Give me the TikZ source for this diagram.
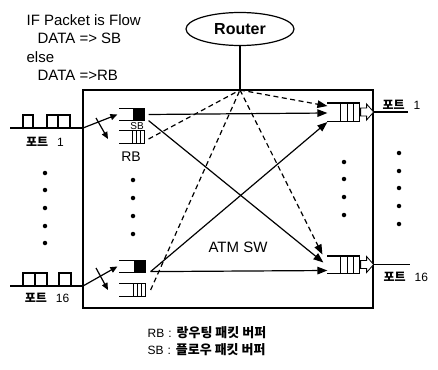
\documentclass[tikz,border=0pt]{standalone}
\usepackage{fontspec}
\setmainfont{Liberation Sans}
\newfontfamily\kr{Noto Sans CJK KR}
\usetikzlibrary{shapes, positioning, arrows.meta, calc}

\begin{document}
\begin{tikzpicture}[x=1pt, y=-1pt, line width=1.2pt,
    dot/.style={circle, fill, inner sep=0pt, minimum size=4.5pt},
    lbl/.style={inner sep=0pt, font=\fontsize{15}{18.3}\selectfont},
    krlbl/.style={inner sep=0pt, font=\fontsize{12}{14}\selectfont},
    qbox/.style={inner sep=0pt, minimum width=24pt, minimum height=11pt},
    obox/.style={inner sep=0pt, minimum width=31pt, minimum height=17pt},
    tip/.style={-{Triangle[length=10pt,width=7.5pt]}},
    smalltip/.style={-{Triangle[length=7pt,width=6pt]}},
    ctrl/.style={dash pattern=on 5pt off 3.5pt}]

    \useasboundingbox (0,0) rectangle (438,369);

    % rule text and router
    \node[lbl, anchor=north west, align=left] (rule) at (26,14)
        {IF Packet is Flow\\ \hspace*{11pt}DATA => SB\\ else\\ \hspace*{11pt}DATA =>RB};
    \node[ellipse, draw, minimum width=108pt, minimum height=33pt, inner sep=0pt,
          font=\bfseries\fontsize{16}{18}\selectfont] (router) at (240,29) {Router};

    % switch box
    \node[draw, line width=1.9pt, minimum width=290pt, minimum height=218pt, inner sep=0pt] (sw) at (228,199) {};
    \coordinate (hub) at (240,90);
    \draw (router.south) -- (hub);
    \node[lbl] (atm) at (238,247) {ATM SW};

    % input port 1
    \coordinate (in1) at (10,128);
    \coordinate (in1e) at (83,128);
    \draw (in1) -- (in1e);
    \draw (23,115) rectangle (33,128);
    \draw (47,115) rectangle (58,128);
    \draw (58,115) rectangle (70,128);
    \node[krlbl] (p1l) at (45,142) {{\kr\bfseries 포트}\hspace{9pt}1};

    % input port 16
    \coordinate (in16) at (10,286);
    \coordinate (in16e) at (83,286);
    \draw (in16) -- (in16e);
    \draw (23,273) rectangle (35,286);
    \draw (35,273) rectangle (47,286);
    \draw (59,273) rectangle (71,286);
    \node[krlbl] (p16l) at (47,298) {{\kr\bfseries 포트}\hspace{9pt}16};

    % input buffers
    \node[qbox] (sb1) at (132,114.5) {};
    \draw (sb1.north west) -- (sb1.north east) -- (sb1.south east) -- (sb1.south west);
    \fill (sb1.north east) rectangle ($(sb1.south east)+(-12,0)$);
    \node[inner sep=0pt, font=\fontsize{10}{10}\selectfont] (sblbl) at (137,126) {SB};
    \node[qbox, minimum height=12pt] (rb1) at (132,137) {};
    \draw (rb1.north west) -- (rb1.north east) -- (rb1.south east) -- (rb1.south west);
    \draw ($(rb1.north east)+(-4,0)$) -- ($(rb1.south east)+(-4,0)$);
    \draw ($(rb1.north east)+(-8,0)$) -- ($(rb1.south east)+(-8,0)$);
    \draw ($(rb1.north east)+(-12,0)$) -- ($(rb1.south east)+(-12,0)$);
    \node[inner sep=0pt, font=\fontsize{14}{16}\selectfont] (rblbl) at (131,157) {RB};

    \node[qbox, minimum width=25pt] (sb16) at (132.5,266.5) {};
    \draw (sb16.north west) -- (sb16.north east) -- (sb16.south east) -- (sb16.south west);
    \fill (sb16.north east) rectangle ($(sb16.south east)+(-12,0)$);
    \node[qbox, minimum width=25pt, minimum height=12pt] (rb16) at (132.5,290) {};
    \draw (rb16.north west) -- (rb16.north east) -- (rb16.south east) -- (rb16.south west);
    \draw ($(rb16.north east)+(-4,0)$) -- ($(rb16.south east)+(-4,0)$);
    \draw ($(rb16.north east)+(-8,0)$) -- ($(rb16.south east)+(-8,0)$);
    \draw ($(rb16.north east)+(-12,0)$) -- ($(rb16.south east)+(-12,0)$);

    % input switching
    \coordinate (x1a) at (96,118);
    \coordinate (x1b) at (108,139);
    \draw[smalltip] (in1e) -- ($(sb1.west)+(-2,0)$);
    \draw[smalltip] (x1a) -- (x1b);
    \coordinate (x16a) at (96,268);
    \coordinate (x16b) at (108,290);
    \draw[smalltip] (in16e) -- ($(sb16.west)+(-2,0)$);
    \draw[smalltip] (x16a) -- (x16b);

    % output buffers
    \node[obox] (o1) at (343.5,112) {};
    \draw (o1.north west) -- (o1.north east) -- (o1.south east) -- (o1.south west);
    \draw ($(o1.north east)+(-6,0)$) -- ($(o1.south east)+(-6,0)$);
    \draw ($(o1.north east)+(-12,0)$) -- ($(o1.south east)+(-12,0)$);
    \draw ($(o1.north east)+(-19,0)$) -- ($(o1.south east)+(-19,0)$);
    \draw[fill=white, line width=0.8pt] ($(o1.east)+(1,-4)$) -- ++(6,0) -- ++(0,-4) -- ++(7,8)
        -- ++(-7,8) -- ++(0,-4) -- ++(-6,0) -- cycle;
    \coordinate (out1) at (408,112);
    \draw ($(o1.east)+(14,0)$) -- (out1);
    \node[krlbl, anchor=base west] (p1r) at (382,109) {{\kr\bfseries 포트}\hspace{9pt}1};

    \node[obox, minimum height=16pt] (o16) at (343.5,264.5) {};
    \draw (o16.north west) -- (o16.north east) -- (o16.south east) -- (o16.south west);
    \draw ($(o16.north east)+(-6,0)$) -- ($(o16.south east)+(-6,0)$);
    \draw ($(o16.north east)+(-12,0)$) -- ($(o16.south east)+(-12,0)$);
    \draw ($(o16.north east)+(-19,0)$) -- ($(o16.south east)+(-19,0)$);
    \draw[fill=white, line width=0.8pt] ($(o16.east)+(1,-4)$) -- ++(6,0) -- ++(0,-4) -- ++(7,8)
        -- ++(-7,8) -- ++(0,-4) -- ++(-6,0) -- cycle;
    \coordinate (out16) at (410,264.5);
    \draw ($(o16.east)+(14,0)$) -- (out16);
    \node[krlbl, anchor=west] (p16r) at (383,277) {{\kr\bfseries 포트}\hspace{9pt}16};

    % switching paths
    \draw[tip] ($(sb1.east)+(4,0)$) -- ($(o1.west)+(0,1)$);
    \draw[tip] ($(sb1.south east)+(4,0)$) -- ($(o16.west)+(-4,-2)$);
    \draw[tip] ($(sb16.south east)+(5,-1)$) -- ($(o1.west)+(0,10)$);
    \draw[tip] ($(sb16.south east)+(5,-1)$) -- ($(o16.west)+(0,6)$);
    \draw[ctrl, tip] (hub) -- ($(o1.west)+(0,-6)$);
    \draw[ctrl, tip] (hub) -- ($(o16.west)+(-5,-10)$);
    \draw[ctrl] ($(rb1.east)+(4,2)$) -- (hub);
    \draw[ctrl] ($(rb16.east)+(5,0)$) -- (hub);

    % dots
    \node[dot] (dl1) at (45,173) {}; \node[dot] (dl2) at (45,190) {}; \node[dot] (dl3) at (45,208) {};
    \node[dot] (dl4) at (45,226) {}; \node[dot] (dl5) at (45,243) {};
    \node[dot] (di1) at (133,180) {}; \node[dot] (di2) at (133,198) {};
    \node[dot] (di3) at (133,216) {}; \node[dot] (di4) at (133,234) {};
    \node[dot] (do1) at (344,162) {}; \node[dot] (do2) at (344,179) {};
    \node[dot] (do3) at (344,197) {}; \node[dot] (do4) at (344,215) {};
    \node[dot] (dr1) at (399,153) {}; \node[dot] (dr2) at (399,171) {}; \node[dot] (dr3) at (399,188) {};
    \node[dot] (dr4) at (399,206) {}; \node[dot] (dr5) at (399,224) {};

    % legend
    \node[anchor=west, inner sep=0pt, font=\fontsize{12}{14}\selectfont] (leg1) at (147,333)
        {RB\hspace{4pt}:\hspace{5pt}{\kr\bfseries\fontsize{13}{15}\selectfont 랑우팅 패킷 버퍼}};
    \node[anchor=west, inner sep=0pt, font=\fontsize{12}{14}\selectfont] (leg2) at (147,350)
        {SB\hspace{4pt}:\hspace{5pt}{\kr\bfseries\fontsize{13}{15}\selectfont 플로우 패킷 버퍼}};
\end{tikzpicture}
\end{document}
